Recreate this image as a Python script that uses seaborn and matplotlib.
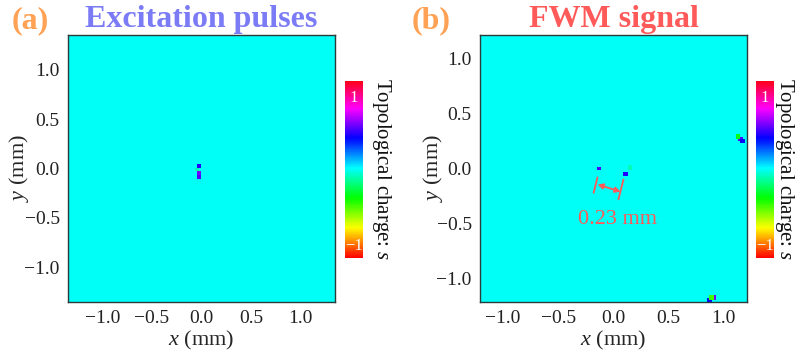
import numpy as np
import pandas as pd
import matplotlib
matplotlib.use("Agg")
import matplotlib.pyplot as plt
from matplotlib.ticker import FixedLocator
import seaborn as sns

# ---- data ---------------------------------------------------------------
# panel (a): excitation pulses, field half-width and grid step (mm)
half_a = 1.35
step_a = 0.02
defects_a_x = [-0.04, -0.04, -0.03, -0.05]
defects_a_y = [0.04, -0.06, -0.09, -0.01]
defects_a_s = [0.40, 0.50, 0.45, -0.08]

# panel (b): FWM signal
half_b = 1.21
step_b = 0.02
defects_b_x = [-0.12, 0.12, 1.15, 1.13, 1.18, 0.86, 0.91, 0.89, 0.16]
defects_b_y = [0.00, -0.05, 0.27, 0.28, 0.24, -1.19, -1.18, -1.17, 0.02]
defects_b_s = [0.45, 0.40, 0.45, -0.30, 0.35, 0.35, 0.50, -0.40, -0.08]

ticks_major = [-1.0, -0.5, 0.0, 0.5, 1.0]
tick_labels = ["\u22121.0", "\u22120.5", "0.0", "0.5", "1.0"]
separation_label = "0.23 mm"
cbar_label = "Topological charge: $s$"

# ---- style --------------------------------------------------------------
sns.set_style("white")
plt.rcParams["font.family"] = ["Liberation Serif", "DejaVu Serif"]
plt.rcParams["mathtext.fontset"] = "custom"
plt.rcParams["mathtext.rm"] = "Liberation Serif"
plt.rcParams["mathtext.it"] = "Liberation Serif:italic"
plt.rcParams["axes.unicode_minus"] = True

frame_col = "#2b3a3a"
orange = "#FFA255"
blue_title = "#7B7BF5"
red = "#FF5A5A"


def build_field(half, step, xs, ys, ss, r=0.02):
    n = int(round(2 * half / step))
    xc = -half + step * (np.arange(n) + 0.5)
    yc = half - step * (np.arange(n) + 0.5)  # rows from top to bottom
    X, Y = np.meshgrid(xc, yc)
    field = np.zeros((n, n))
    for x, y, s in zip(xs, ys, ss):
        mask = (np.abs(X - x) <= r) & (np.abs(Y - y) <= r)
        field[mask] = s
    return pd.DataFrame(field), n


def to_ix(x, half, step):
    return (x + half) / step


def to_iy(y, half, step):
    return (half - y) / step


def style_axes(ax, half, step, n):
    ax.set_xticks([to_ix(t, half, step) for t in ticks_major])
    ax.set_xticklabels(tick_labels, rotation=0)
    ax.set_yticks([to_iy(t, half, step) for t in ticks_major])
    ax.set_yticklabels(tick_labels, rotation=0)
    minor = np.round(np.arange(-1.3, 1.31, 0.1), 2)
    minor = [m for m in minor if abs(m) <= half]
    ax.xaxis.set_minor_locator(FixedLocator([to_ix(m, half, step) for m in minor]))
    ax.yaxis.set_minor_locator(FixedLocator([to_iy(m, half, step) for m in minor]))
    ax.tick_params(which="both", direction="in", top=True, right=True,
                   bottom=True, left=True, color=frame_col, labelsize=14,
                   labelcolor="#222222")
    ax.tick_params(which="major", length=4, width=0.9, pad=6)
    ax.tick_params(which="minor", length=3, width=0.8)
    for sp in ax.spines.values():
        sp.set_visible(True)
        sp.set_color(frame_col)
        sp.set_linewidth(1.0)
    ax.set_xlim(0, n)
    ax.set_ylim(n, 0)


def style_cbar(cax, label_x):
    cax.set_xlim(0, 1)
    cax.set_yticks([])
    cax.tick_params(length=0)
    for sp in cax.spines.values():
        sp.set_visible(False)
    cax.text(0.5, 0.81, "1", transform=cax.transData,
             color="white", ha="center", va="center", fontsize=12)
    cax.text(0.5, -0.87, "\u22121", transform=cax.transData,
             color="white", ha="center", va="center", fontsize=12)
    cax.text(label_x, 0.0, cbar_label, transform=cax.get_yaxis_transform(),
             rotation=-90, fontsize=15, color="#111111",
             ha="center", va="center")


fig = plt.figure(figsize=(7.97, 3.56), dpi=100)
W, H = 797.0, 356.0

ax_a = fig.add_axes([68 / W, 54 / H, 267 / W, 267 / H])
cax_a = fig.add_axes([345 / W, 98 / H, 18 / W, 177 / H])
ax_b = fig.add_axes([480 / W, 54 / H, 267 / W, 267 / H])
cax_b = fig.add_axes([756 / W, 98 / H, 18 / W, 177 / H])

# ---- panel (a) ----------------------------------------------------------
df_a, n_a = build_field(half_a, step_a, defects_a_x, defects_a_y, defects_a_s)
sns.heatmap(df_a, ax=ax_a, cmap="hsv", vmin=-1, vmax=1, cbar=True,
            cbar_ax=cax_a, xticklabels=False, yticklabels=False,
            rasterized=True)
style_axes(ax_a, half_a, step_a, n_a)
style_cbar(cax_a, 2.0)
ax_a.set_xlabel("$x$ (mm)", fontsize=16)
ax_a.set_ylabel("$y$ (mm)", fontsize=16)
ax_a.xaxis.set_label_coords(0.5, -0.10)
ax_a.yaxis.set_label_coords(-0.14, 0.5)
ax_a.set_title("Excitation pulses", fontsize=23, fontweight="bold",
               color=blue_title, pad=6)
fig.text(12 / W, 1 - 28 / H, "(a)", fontsize=23, fontweight="bold",
         color=orange, ha="left", va="baseline")

# ---- panel (b) ----------------------------------------------------------
df_b, n_b = build_field(half_b, step_b, defects_b_x, defects_b_y, defects_b_s)
sns.heatmap(df_b, ax=ax_b, cmap="hsv", vmin=-1, vmax=1, cbar=True,
            cbar_ax=cax_b, xticklabels=False, yticklabels=False,
            rasterized=True)
style_axes(ax_b, half_b, step_b, n_b)
style_cbar(cax_b, 1.6)
ax_b.set_xlabel("$x$ (mm)", fontsize=16)
ax_b.set_ylabel("$y$ (mm)", fontsize=16)
ax_b.xaxis.set_label_coords(0.5, -0.10)
ax_b.yaxis.set_label_coords(-0.13, 0.5)
ax_b.set_title("FWM signal", fontsize=23, fontweight="bold",
               color=red, pad=6)
fig.text(412 / W, 1 - 28 / H, "(b)", fontsize=23, fontweight="bold",
         color=orange, ha="left", va="baseline")


# separation marker between the two vortices
def P(x, y):
    return to_ix(x, half_b, step_b), to_iy(y, half_b, step_b)


for (x0, y0), (x1, y1) in [((-0.18, -0.22), (-0.145, -0.08)),
                           ((0.045, -0.28), (0.09, -0.10))]:
    ax_b.plot(*zip(P(x0, y0), P(x1, y1)), color=red, lw=1.3)
ax_b.annotate("", xy=P(0.065, -0.21), xytext=P(-0.145, -0.145),
              arrowprops=dict(arrowstyle="<|-|>", color=red, lw=1.3,
                              mutation_scale=8, shrinkA=0, shrinkB=0))
ax_b.text(*P(0.036, -0.46), separation_label, color=red, fontsize=16,
          ha="center", va="center")

fig.savefig("out.png", dpi=100)
